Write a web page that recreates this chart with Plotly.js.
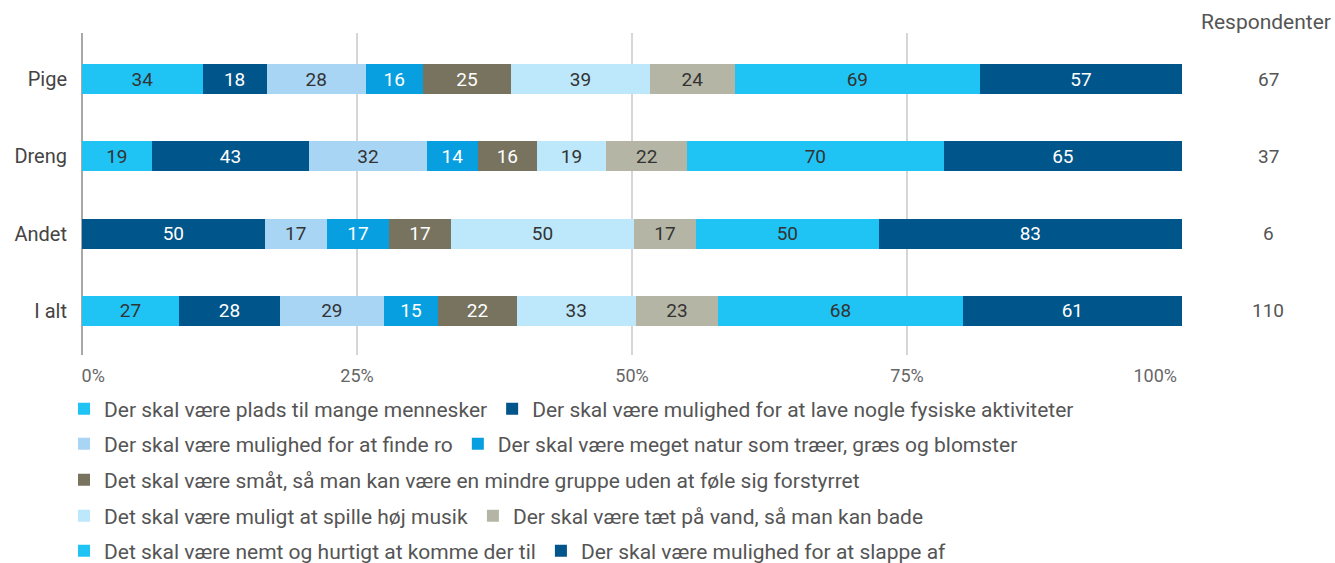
<!DOCTYPE html>
<html>
<head>
<meta charset="utf-8">
<script src="https://cdn.plot.ly/plotly-3.0.1.min.js"></script>
<style>html,body{margin:0;padding:0;background:#fff;}#chart{width:1335px;height:563px;}</style>
</head>
<body>
<div id="chart"></div>
<script>
// Categories (rows)
const categories = ['Pige', 'Dreng', 'Andet', 'I alt'];

// Series names (legend)
const seriesNames = [
  'Der skal være plads til mange mennesker',
  'Der skal være mulighed for at lave nogle fysiske aktiviteter',
  'Der skal være mulighed for at finde ro',
  'Der skal være meget natur som træer, græs og blomster',
  'Det skal være småt, så man kan være en mindre gruppe uden at føle sig forstyrret',
  'Det skal være muligt at spille høj musik',
  'Der skal være tæt på vand, så man kan bade',
  'Det skal være nemt og hurtigt at komme der til',
  'Der skal være mulighed for at slappe af'
];

// Series values (percent of respondents per row)
const plads    = [34, 19, null, 27];
const fysiske  = [18, 43, 50, 28];
const ro       = [28, 32, 17, 29];
const natur    = [16, 14, 17, 15];
const smaat    = [25, 16, 17, 22];
const musik    = [39, 19, 50, 33];
const vand     = [24, 22, 17, 23];
const nemt     = [69, 70, 50, 68];
const slappe   = [57, 65, 83, 61];

// Respondent counts per row
const respondenter = [67, 37, 6, 110];
const respondenterTitle = 'Respondenter';

// X tick values and labels
const xTickVals = [0, 25, 50, 75, 100];
const xTickLabels = ['0%', '25%', '50%', '75%', '100%'];

const seriesValues = [plads, fysiske, ro, natur, smaat, musik, vand, nemt, slappe];
const colors = ['#20c4f4', '#00558a', '#a9d5f5', '#089fe0', '#77735f', '#bde7fa', '#b5b5a5', '#20c4f4', '#00558a'];
const textColors = ['#333333', '#ffffff', '#333333', '#ffffff', '#ffffff', '#333333', '#333333', '#333333', '#ffffff'];
const legendIds = ['legend', 'legend', 'legend2', 'legend2', 'legend3', 'legend4', 'legend4', 'legend5', 'legend5'];

const traces = seriesValues.map((vals, i) => ({
  type: 'bar',
  orientation: 'h',
  name: seriesNames[i],
  y: categories,
  x: vals,
  text: vals.map(v => v === null ? '' : String(v)),
  texttemplate: '%{text}',
  textposition: 'inside',
  insidetextanchor: 'middle',
  textangle: 0,
  constraintext: 'none',
  insidetextfont: {family: 'Roboto', size: 19, color: textColors[i]},
  marker: {color: colors[i], line: {width: 0}},
  legend: legendIds[i],
  hoverinfo: 'skip'
}));

const plotLeft = 82, plotRight = 1182, plotTop = 33, plotBottom = 355;
const W = 1335, H = 563;
const pw = plotRight - plotLeft, ph = plotBottom - plotTop;
const px2x = p => (p - plotLeft) / pw;
const py2y = p => (plotBottom - p) / ph;

const legendFont = {family: 'Roboto', size: 21, color: '#555555'};
function mkLegend(ypx) {
  return {
    orientation: 'h', x: px2x(64), xanchor: 'left', y: py2y(ypx), yanchor: 'middle',
    traceorder: 'normal',
    font: legendFont, bgcolor: 'rgba(0,0,0,0)', borderwidth: 0, itemclick: false, itemdoubleclick: false,
    tracegroupgap: 0
  };
}

const annotations = [{
  xref: 'paper', yref: 'paper', x: px2x(1266), y: py2y(22), xanchor: 'center', yanchor: 'middle',
  text: respondenterTitle, showarrow: false, font: {family: 'Roboto', size: 21, color: '#555555'}
}].concat(categories.map((c, i) => ({
  xref: 'paper', yref: 'y', x: px2x(1268), y: c, xanchor: 'center', yanchor: 'middle',
  text: String(respondenter[i]), showarrow: false, font: {family: 'Roboto', size: 19, color: '#555555'}
})));

const nb = n => '\u00a0'.repeat(n);

const layout = {
  width: W, height: H,
  margin: {l: plotLeft, r: W - plotRight, t: plotTop, b: H - plotBottom, autoexpand: false},
  paper_bgcolor: '#ffffff', plot_bgcolor: '#ffffff',
  barmode: 'stack', barnorm: 'percent', bargap: 0.61,
  font: {family: 'Roboto', color: '#555555'},
  xaxis: {
    range: [0, 100], tickvals: xTickVals,
    ticktext: xTickLabels.map((t, i) => i === 0 ? nb(5) + t : (i === xTickLabels.length - 1 ? t + nb(12) : t)),
    showgrid: true, gridcolor: '#d6d6d6', gridwidth: 1.5,
    zeroline: true, zerolinecolor: '#a8a8a8', zerolinewidth: 2,
    showline: false, ticks: '', ticklabelstandoff: 8,
    tickfont: {family: 'Roboto', size: 18, color: '#666666'}, fixedrange: true
  },
  yaxis: {
    type: 'category', categoryorder: 'array', categoryarray: categories,
    range: [3.57, -0.595], showgrid: false, zeroline: false, showline: false,
    ticks: '', ticklabelstandoff: 14,
    tickfont: {family: 'Roboto', size: 20, color: '#444444'}, fixedrange: true
  },
  legend: mkLegend(409),
  legend2: mkLegend(444),
  legend3: mkLegend(480),
  legend4: mkLegend(516),
  legend5: mkLegend(551),
  annotations: annotations,
  showlegend: true
};

Plotly.newPlot('chart', traces, layout, {displayModeBar: false, staticPlot: false, responsive: false});
</script>
</body>
</html>
